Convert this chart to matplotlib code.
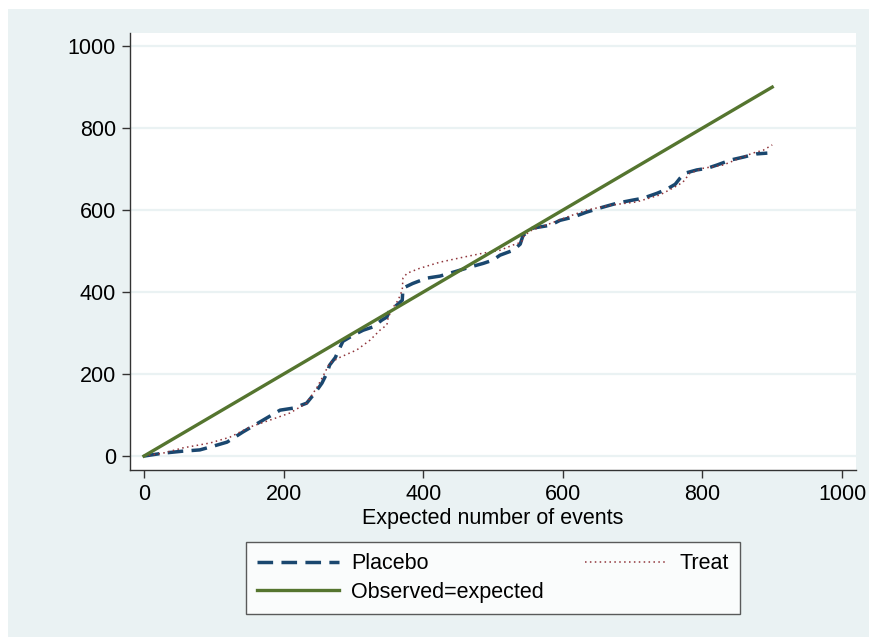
import matplotlib
matplotlib.use("Agg")
import matplotlib.pyplot as plt
from matplotlib.patches import Rectangle

plt.rcParams['font.family'] = ['Liberation Sans', 'DejaVu Sans']

# expected vs observed cumulative events
placebo_x = [0, 27, 56, 80, 99, 119, 142, 171, 195, 214, 233, 245, 255, 262, 266,
             274, 285, 300, 314, 328, 341, 348, 352, 362, 370, 371, 374, 385, 405,
             424, 448, 467, 486, 500, 510, 529, 539, 543, 557, 582, 596, 615, 634,
             653, 678, 699, 715, 735, 749, 761, 768, 775, 792, 807, 821, 840, 858,
             877, 893]
placebo_y = [0, 7, 12, 15, 24, 34, 59, 88, 112, 117, 129, 154, 178, 202, 222,
             240, 280, 295, 307, 315, 332, 339, 356, 368, 380, 409, 412, 421, 434,
             439, 451, 461, 470, 478, 490, 502, 517, 538, 556, 563, 575, 583, 595,
             605, 617, 624, 629, 641, 651, 663, 678, 690, 698, 702, 710, 722, 729,
             737, 739]

treat_x = [0, 27, 56, 95, 123, 152, 181, 209, 233, 248, 256, 266, 281, 305, 324,
           338, 348, 350, 357, 364, 370, 371, 377, 395, 424, 457, 486, 510, 529,
           541, 543, 553, 580, 606, 634, 668, 706, 739, 758, 772, 782, 801, 830,
           854, 872, 887, 900]
treat_y = [0, 7, 20, 32, 46, 71, 88, 105, 129, 168, 193, 227, 241, 259, 283,
           307, 320, 339, 363, 380, 405, 434, 446, 458, 473, 485, 495, 502, 515,
           522, 534, 549, 566, 583, 600, 612, 620, 637, 654, 668, 690, 702, 710,
           727, 739, 746, 759]

ref_x = [0, 900]
ref_y = [0, 900]

ticks = [0, 200, 400, 600, 800, 1000]

fig = plt.figure(figsize=(8.69, 6.37), dpi=100, facecolor='white')
fig.patches.append(Rectangle((8 / 869, 0), 1, 1 - 9 / 637, transform=fig.transFigure,
                             facecolor='#eaf2f3', edgecolor='none', zorder=-10))

ax = fig.add_axes([130 / 869, 1 - 470 / 637, 726 / 869, 437 / 637])
ax.set_facecolor('white')

l1, = ax.plot(placebo_x, placebo_y, color='#1a476f', lw=2.5, linestyle=(0, (4.5, 2.4)),
              label='Placebo', zorder=3)
l2, = ax.plot(treat_x, treat_y, color='#90353b', lw=1.1, linestyle=(0, (1, 2.2)),
              label='Treat', zorder=3)
l3, = ax.plot(ref_x, ref_y, color='#55752f', lw=2.4, label='Observed=expected', zorder=4)

ax.set_xlim(-20, 1020)
ax.set_ylim(-34, 1032)
ax.set_xticks(ticks)
ax.set_yticks(ticks)
ax.yaxis.grid(True, color='#eaf2f3', lw=1.6)
ax.set_axisbelow(True)

for s in ['top', 'right']:
    ax.spines[s].set_visible(False)
for s in ['left', 'bottom']:
    ax.spines[s].set_color('#333333')
    ax.spines[s].set_linewidth(1.0)

ax.tick_params(axis='both', direction='out', length=6, width=1, color='#333333',
               labelsize=15.5, pad=4)
ax.set_xlabel('Expected number of events', fontsize=15.5, labelpad=2)

leg = fig.legend([l1, l3, l2], ['Placebo', 'Observed=expected', 'Treat'],
                 loc='center', bbox_to_anchor=(493 / 869, 1 - 578 / 637),
                 ncol=2, fontsize=15.5, frameon=True, fancybox=False,
                 handlelength=3.8, handletextpad=0.6, columnspacing=1.9,
                 labelspacing=0.35, borderpad=0.5)
leg.get_frame().set_edgecolor('#333333')
leg.get_frame().set_linewidth(1.0)

fig.savefig('out.png', dpi=100, facecolor=fig.get_facecolor())
